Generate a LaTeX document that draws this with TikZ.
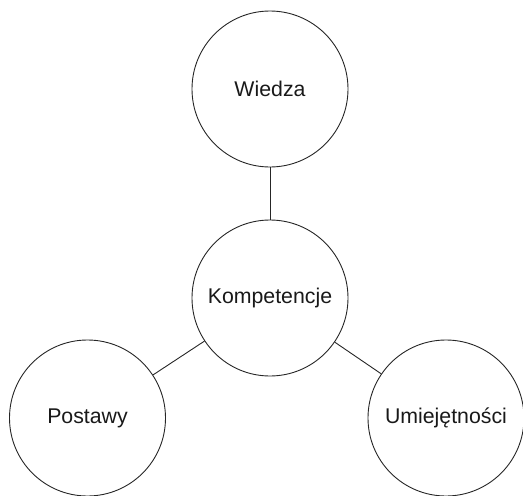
\documentclass[tikz,border=0pt]{standalone}
\usepackage{fontspec}
\setmainfont{Liberation Sans}
\begin{document}
\begin{tikzpicture}[x=1pt,y=-1pt,
  bubble/.style={draw=black!85,line width=0.9pt,circle,minimum size=156pt,inner sep=0pt,
    font=\fontsize{21.3}{25}\selectfont,text=black!90},
  link/.style={draw=black!85,line width=0.9pt}]
\useasboundingbox (0,0) rectangle (523,496);
\node[bubble] (w) at (270,89) {Wiedza};
\node[bubble] (k) at (270,298) {Kompetencje};
\node[bubble] (p) at (87.5,418) {Postawy};
\node[bubble] (u) at (446,418) {Umiejętności};
\draw[link] (w) -- (k);
\draw[link] (k) -- (p);
\draw[link] (k) -- (u);
\end{tikzpicture}
\end{document}
